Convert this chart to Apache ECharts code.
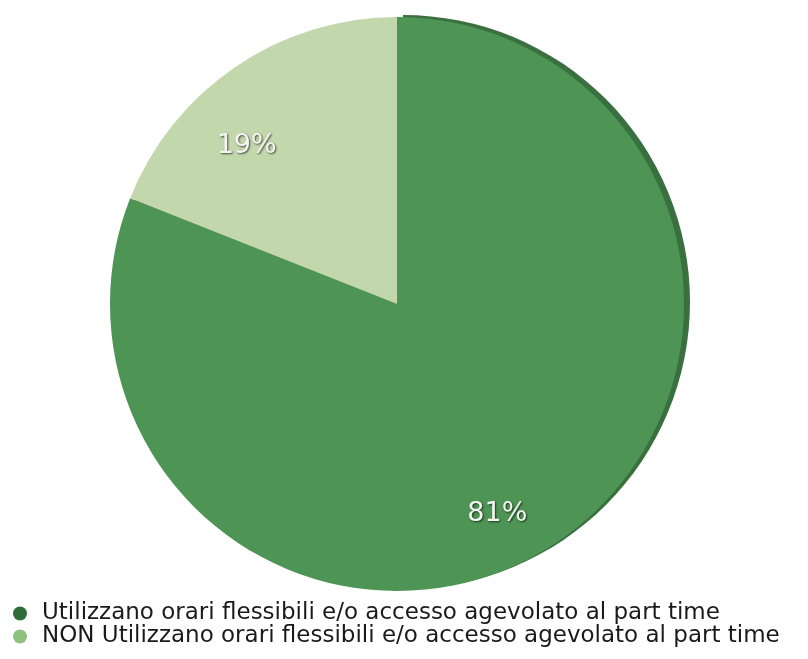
<!DOCTYPE html>
<html>
<head>
<meta charset="utf-8">
<script src="https://cdn.jsdelivr.net/npm/echarts@6/dist/echarts.min.js"></script>
<style>
  html, body { margin: 0; padding: 0; background: #fff; }
  #chart { width: 808px; height: 659px; }
</style>
</head>
<body>
<div id="chart"></div>
<script>
// categorie e valori (percentuali)
const categories = [
    'Utilizzano orari flessibili e/o accesso agevolato al part time',
    'NON Utilizzano orari flessibili e/o accesso agevolato al part time'
];
const values = [81, 19];
const sliceColors = ['#4e9454', '#c3d7ac'];
const legendColors = ['#2f6d37', '#8ec17f'];

const chart = echarts.init(document.getElementById('chart'));

const pieData = categories.map((name, i) => ({ name: name, value: values[i], itemStyle: { color: sliceColors[i] } }));
// bordo scuro (effetto 3D) solo sulla fetta grande
const rimData = categories.map((name, i) => ({ name: name, value: values[i], itemStyle: { color: i === 0 ? '#3a7040' : 'rgba(0,0,0,0)' } }));
const labelData = categories.map((name, i) => ({ name: name, value: values[i] }));

const center = [397, 304];
const r = 287;

chart.setOption({
    animation: false,
    legend: {
        orient: 'vertical',
        left: 13,
        top: 602,
        padding: 0,
        itemGap: 0,
        icon: 'circle',
        itemWidth: 14,
        itemHeight: 14,
        selectedMode: false,
        formatter: '{t|{name}}',
        textStyle: {
            rich: {
                t: { fontSize: 23, lineHeight: 24, color: '#1a1a1a', fontFamily: 'DejaVu Sans, sans-serif', padding: [0, 0, 0, 10] }
            }
        },
        data: categories.map((name, i) => ({ name: name, itemStyle: { color: legendColors[i] } }))
    },
    series: [
        {
            type: 'pie',
            silent: true,
            center: [center[0] + 6, center[1] - 2],
            radius: [0, r],
            startAngle: 90,
            label: { show: false },
            labelLine: { show: false },
            data: rimData
        },
        {
            type: 'pie',
            silent: true,
            center: center,
            radius: [0, r],
            startAngle: 90,
            label: { show: false },
            labelLine: { show: false },
            data: pieData
        },
        {
            // solo etichette percentuali
            type: 'pie',
            silent: true,
            center: [372, 330],
            radius: [150, 290],
            startAngle: 90,
            itemStyle: { color: 'rgba(0,0,0,0)' },
            label: {
                show: true,
                position: 'inside',
                formatter: '{c}%',
                fontSize: 27,
                fontFamily: 'DejaVu Sans, sans-serif',
                color: '#f4f4f0',
                textShadowColor: 'rgba(0,0,0,0.65)',
                textShadowBlur: 2,
                textShadowOffsetX: 1,
                textShadowOffsetY: 1
            },
            labelLine: { show: false },
            data: labelData
        }
    ]
});
</script>
</body>
</html>
